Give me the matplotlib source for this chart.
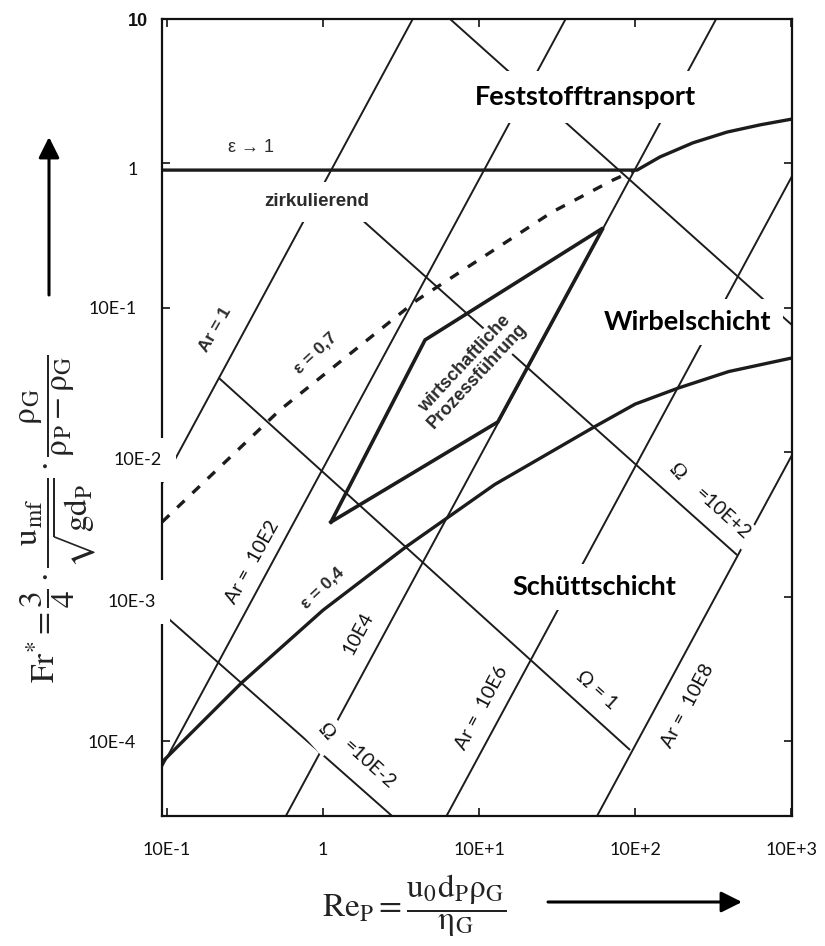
import matplotlib
matplotlib.use("Agg")
import matplotlib.pyplot as plt

# ---------------- data ----------------
re_ticks = [0.1, 1, 10, 100, 1000]
re_tick_labels = ["10E-1", "1", "10E+1", "10E+2", "10E+3"]
fr_ticks = [10, 1, 0.1, 0.01, 1e-3, 1e-4]
fr_tick_labels = ["10", "1", "10E-1", "10E-2", "10E-3", "10E-4"]

# Archimedes lines (Ar = const): end points (Re, Fr*)
ar_names = ["1", "10E2", "10E4", "10E6", "10E8"]
ar_re_ends = [(0.093, 3.76), (0.093, 35.9), (0.578, 331), (6.19, 1014), (57.1, 1014)]
ar_fr_ends = [(6.11e-3, 10), (6.70e-5, 10), (3.05e-5, 10), (3.05e-5, 0.817), (3.05e-5, 9.6e-3)]

# Omega lines (Omega = const): end points (Re, Fr*)
omega_names = ["10E-2", "1", "10E+2", "10E+4"]
omega_re_ends = [(0.093, 2.77), (0.215, 92.9), (1.0, 451), (6.52, 1014)]
omega_fr_ends = [(7.74e-4, 3.05e-5), (0.0328, 8.73e-5), (0.710, 1.95e-3), (10, 0.0762)]

# porosity curves
eps1_re = [0.093, 103, 144.5, 235, 389, 632, 1014]
eps1_fr = [0.90, 0.90, 1.11, 1.39, 1.65, 1.85, 2.03]
eps07_re = [0.093, 0.112, 0.53, 4.01, 29.4, 72.3, 100]
eps07_fr = [3.30e-3, 4.0e-3, 0.0197, 0.1135, 0.461, 0.769, 0.90]
eps04_re = [0.093, 0.30, 1.0, 3.4, 12.6, 54.6, 100, 189, 398, 1014]
eps04_fr = [7.2e-5, 2.54e-4, 8.1e-4, 2.22e-3, 6.0e-3, 0.0150, 0.0216, 0.0279, 0.0363, 0.0451]

# region of economic operation
diamond_re = [1.125, 4.51, 62.4, 13.2, 1.125]
diamond_fr = [3.30e-3, 0.0601, 0.358, 0.01626, 3.30e-3]

# ---------------- figure ----------------
plt.rcParams["mathtext.fontset"] = "stix"
W, H = 825, 946
fig = plt.figure(figsize=(W / 100, H / 100), dpi=100)
fig.patch.set_facecolor("white")
ax = fig.add_axes([162 / W, (H - 816) / H, (792 - 162) / W, (816 - 19) / H])
ax.set_xscale("log")
ax.set_yscale("log")
ax.set_xlim(10 ** -1.032, 10 ** 3.006)
ax.set_ylim(10 ** -4.516, 10)

LC = "#1c1c1c"
for rr, ff in zip(ar_re_ends, ar_fr_ends):
    ax.plot(rr, ff, color=LC, lw=1.4, solid_capstyle="butt")
for rr, ff in zip(omega_re_ends, omega_fr_ends):
    ax.plot(rr, ff, color=LC, lw=1.4, solid_capstyle="butt")

ax.plot(eps1_re, eps1_fr, color=LC, lw=2.4)
ax.plot(eps04_re, eps04_fr, color=LC, lw=2.4)
ax.plot(eps07_re, eps07_fr, color=LC, lw=2.4, dashes=(3, 3.3))
ax.plot(diamond_re, diamond_fr, color=LC, lw=2.6, solid_joinstyle="miter")

for s in ax.spines.values():
    s.set_linewidth(1.6)
    s.set_color("#111111")

ax.set_xticks(re_ticks)
ax.set_xticklabels(re_tick_labels)
ax.set_yticks(fr_ticks)
ax.set_yticklabels([])
ax.minorticks_off()
ax.tick_params(axis="both", which="major", direction="in", length=6, width=1.2,
               top=True, right=True, labelsize=13, pad=19, colors="#111111")
for lab in ax.get_xticklabels():
    lab.set_fontfamily(["Lato", "DejaVu Sans"])


def fp(x, y):
    return x / W, 1 - y / H


def t(x, y, s, **kw):
    kw.setdefault("ha", "center")
    kw.setdefault("va", "center")
    kw.setdefault("rotation_mode", "anchor")
    return fig.text(*fp(x, y), s, **kw)


WB = dict(facecolor="white", edgecolor="none")
SANS = ["Lato", "DejaVu Sans"]
ARIAL = ["Liberation Sans", "DejaVu Sans"]
SERIF = ["Liberation Serif", "DejaVu Serif"]
GR = "#2b2b2b"

# y tick labels (positions as in reference)
ypos = [(138, 21), (133, 170), (113, 309), (138, 460), (132, 602), (112, 743)]
for (x, y), lab in zip(ypos, fr_tick_labels):
    if lab == "10":
        t(x, y, lab, family=ARIAL, fontsize=13, fontweight="bold", color="#111111")
    elif lab in ("10E-2", "10E-3"):
        t(x, y, lab, family=SANS, fontsize=13, color="#111111",
          bbox=dict(boxstyle="square,pad=0.75", **WB))
    else:
        t(x, y, lab, family=SANS, fontsize=13, color="#111111")

# region names
t(585, 97, "Feststofftransport", family=SANS, fontsize=19.5, fontweight="bold",
  color="black", bbox=dict(boxstyle="square,pad=0.5", **WB))
t(688, 322, "Wirbelschicht", family=SANS, fontsize=19.5, fontweight="bold",
  color="black", bbox=dict(boxstyle="square,pad=0.4", **WB))
t(594, 587, "Schüttschicht", family=SANS, fontsize=19.5, fontweight="bold",
  color="black", bbox=dict(boxstyle="square,pad=0.4", **WB))
t(317, 202, "zirkulierend", family=ARIAL, fontsize=13.5, fontweight="bold", color=GR,
  bbox=dict(boxstyle="square,pad=0.6", **WB))
t(471, 370, "wirtschaftliche\nProzessführung", family=ARIAL, fontsize=13,
  fontweight="bold", color=GR, rotation=47, linespacing=1.0,
  bbox=dict(boxstyle="square,pad=0.12", **WB))

# line labels
t(251, 148, "ε → 1", family=ARIAL, fontsize=13, color=GR)
t(215, 330, "Ar = 1", family=ARIAL, fontsize=12.5, fontweight="bold", color=GR, rotation=60)
t(315, 353, "ε = 0,7", family=ARIAL, fontsize=12.5, fontweight="bold", color=GR, rotation=43)
t(322, 588, "ε = 0,4", family=ARIAL, fontsize=12.5, fontweight="bold", color=GR, rotation=43)
t(252, 562, "Ar =  " + ar_names[1], family=SANS, fontsize=14, color="#111111", rotation=61)
t(358, 633, ar_names[2], family=SANS, fontsize=14, color="#111111", rotation=62)
t(482, 708, "Ar =  " + ar_names[3], family=SANS, fontsize=14, color="#111111", rotation=62)
t(688, 706, "Ar =  " + ar_names[4], family=SANS, fontsize=14, color="#111111", rotation=62)

t(325, 733, "Ω", family=SERIF, fontsize=15, color="#111111", rotation=-48,
  bbox=dict(boxstyle="square,pad=0.4", **WB))
t(369, 764, "=" + omega_names[0], family=SANS, fontsize=14, color="#111111", rotation=-42)
t(597, 690, "Ω = " + omega_names[1], family=SANS, fontsize=14, color="#111111", rotation=-42)
t(676, 473, "Ω", family=SERIF, fontsize=15, color="#111111", rotation=-48)
t(722, 514, "=" + omega_names[2], family=SANS, fontsize=14, color="#111111", rotation=-42,
  bbox=dict(boxstyle="square,pad=0.25", **WB))

# axis formulas
t(58, 519,
  r"$\mathrm{Fr}^{*}=\dfrac{3}{4}\cdot\dfrac{\mathrm{u}_{\mathrm{mf}}}{\sqrt{\mathrm{g}\mathrm{d}_{\mathrm{P}}}}"
  r"\cdot\dfrac{\mathrm{\rho}_{\mathrm{G}}}{\mathrm{\rho}_{\mathrm{P}}-\mathrm{\rho}_{\mathrm{G}}}$",
  fontsize=24, rotation=90, color="#222222")
t(414, 906,
  r"$\mathrm{Re}_{\mathrm{P}}=\dfrac{\mathrm{u}_{0}\mathrm{d}_{\mathrm{P}}\mathrm{\rho}_{\mathrm{G}}}{\mathrm{\eta}_{\mathrm{G}}}$",
  fontsize=24, color="#222222")

# arrows
ap = dict(arrowstyle="-|>,head_length=0.9,head_width=0.45", lw=2.2, color="black",
          shrinkA=0, shrinkB=0, mutation_scale=14)
fig.add_artist(matplotlib.patches.FancyArrowPatch(fp(49, 295), fp(49, 137),
                                                  transform=fig.transFigure, **ap))
fig.add_artist(matplotlib.patches.FancyArrowPatch(fp(548, 902), fp(742, 902),
                                                  transform=fig.transFigure, **ap))

fig.savefig("out.png", dpi=100, facecolor="white")
